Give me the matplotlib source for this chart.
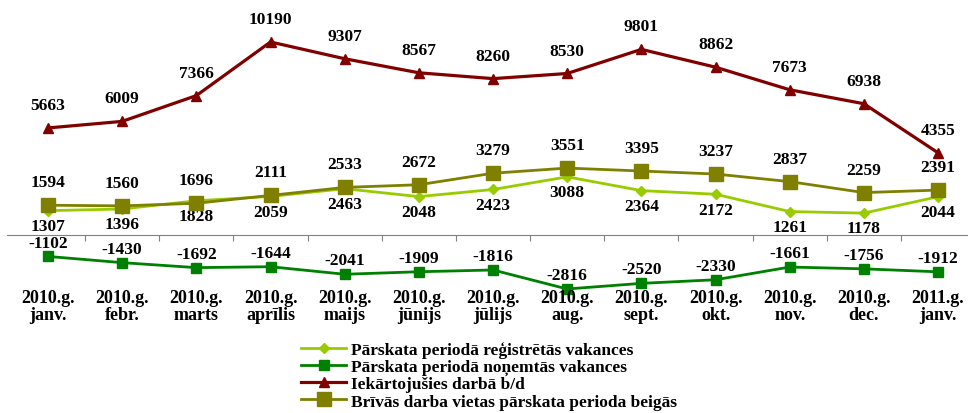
import matplotlib
matplotlib.use("Agg")
import matplotlib.pyplot as plt
import matplotlib.transforms as mtransforms

plt.rcParams['font.family'] = ['Liberation Serif', 'DejaVu Serif']
plt.rcParams['font.weight'] = 'bold'

# Data
months = ["2010.g.\njanv.", "2010.g.\nfebr.", "2010.g.\nmarts", "2010.g.\naprīlis",
          "2010.g.\nmaijs", "2010.g.\njūnijs", "2010.g.\njūlijs", "2010.g.\naug.",
          "2010.g.\nsept.", "2010.g.\nokt.", "2010.g.\nnov.", "2010.g.\ndec.",
          "2011.g.\njanv."]
registered = [1307, 1396, 1828, 2059, 2463, 2048, 2423, 3088, 2364, 2172, 1261, 1178, 2044]
removed = [-1102, -1430, -1692, -1644, -2041, -1909, -1816, -2816, -2520, -2330, -1661, -1756, -1912]
employed = [5663, 6009, 7366, 10190, 9307, 8567, 8260, 8530, 9801, 8862, 7673, 6938, 4355]
vacant = [1594, 1560, 1696, 2111, 2533, 2672, 3279, 3551, 3395, 3237, 2837, 2259, 2391]

names = ["Pārskata periodā reģistrētās vakances",
         "Pārskata periodā noņemtās vakances",
         "Iekārtojušies darbā b/d",
         "Brīvās darba vietas pārskata perioda beigās"]

fig = plt.figure(figsize=(9.68, 4.14), dpi=100)
ax = fig.add_axes([0, 1 - 296 / 414, 1, 275 / 414])
x = list(range(len(months)))

l1, = ax.plot(x, registered, color="#99CC00", lw=2.0, marker="D", ms=5.5, zorder=3)
l2, = ax.plot(x, removed, color="#008000", lw=2.0, marker="s", ms=6.5, zorder=3)
l3, = ax.plot(x, employed, color="#800000", lw=2.3, marker="^", ms=7.5, zorder=3)
l4, = ax.plot(x, vacant, color="#808000", lw=2.0, marker="s", ms=10, zorder=4)

lab_kw = dict(textcoords="offset points", ha="center", va="center",
              fontsize=12.5, fontweight="bold")
for i in x:
    ax.annotate(str(employed[i]), (i, employed[i]), xytext=(0, 16.5), **lab_kw)
    ax.annotate(str(vacant[i]), (i, vacant[i]), xytext=(0, 16.5), **lab_kw)
    ax.annotate(str(registered[i]), (i, registered[i]), xytext=(0, -11), **lab_kw)
    ax.annotate(str(removed[i]), (i, removed[i]), xytext=(0, 10), **lab_kw)

# x limits so that points sit at pixel 48 .. 938
ax.set_xlim(-48 / 74.17, 920 / 74.17)
ax.set_ylim(-3133, 11347)

for s in ["top", "right", "left"]:
    ax.spines[s].set_visible(False)
ax.spines["bottom"].set_position(("data", 0))
ax.spines["bottom"].set_bounds(-0.55, 12.4)
ax.spines["bottom"].set_color("#808080")
ax.set_yticks([])
ax.set_xticks([i + 0.5 for i in x[:-1]])
ax.set_xticklabels([])
ax.tick_params(axis="x", direction="out", length=4, color="#808080")

trans = mtransforms.blended_transform_factory(ax.transData, ax.transAxes)
for i, m in zip(x, months):
    ax.text(i, -0.04, m, transform=trans, ha="center", va="center",
            fontsize=13, fontweight="bold", linespacing=1.0)

fig.legend([l1, l2, l3, l4], names, loc="upper left",
           bbox_to_anchor=(301 / 968, 1 - 342 / 414), frameon=False,
           handlelength=2.6, handletextpad=0.3,
           labelspacing=0.06, borderpad=0, borderaxespad=0,
           prop={"weight": "bold", "size": 12.5})

fig.savefig("out.png", dpi=100)
